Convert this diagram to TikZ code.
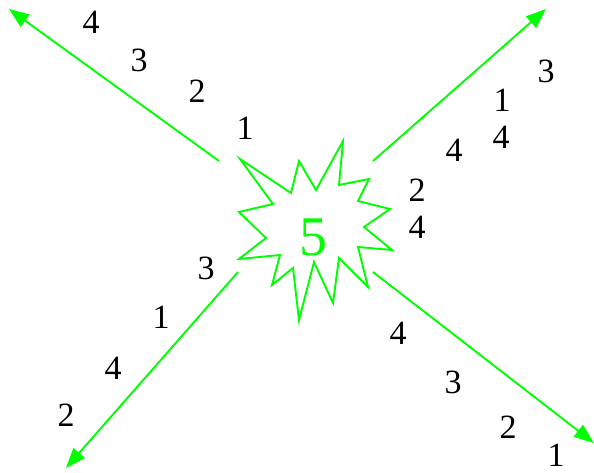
\documentclass[tikz,border=0pt]{standalone}
\usepackage{fontspec}
\setmainfont{Liberation Serif}
\newfontfamily\numfont{Liberation Serif}
\usepackage{tikz}
\usetikzlibrary{arrows.meta}
\definecolor{burstgreen}{RGB}{0, 255, 0}

\begin{document}
\begin{tikzpicture}[
    x=1pt, y=-1pt,
    ray/.style={draw=burstgreen, line width=1.9pt, -{Triangle[length=20pt, width=15pt]}},
    num/.style={font=\numfont\fontsize{34}{36}\selectfont, text=black, inner sep=0pt},
]
    \useasboundingbox (0,0) rectangle (594,473);

    % Star
    \draw[burstgreen, line width=1.9pt, line join=miter]
        (240,159) -- (291,193) -- (299,161) -- (316,190) -- (343,141) -- (339,185)
        -- (369,179) -- (358,201) -- (390,209) -- (364,227) -- (392,250) -- (358,247)
        -- (368,287) -- (339,258) -- (333,303) -- (314,262) -- (299,320) -- (293,268)
        -- (272,285) -- (280,255) -- (239,259) -- (266,238) -- (239,212) -- (273,204)
        -- cycle;
    \node[font=\numfont\fontsize{56}{58}\selectfont, text=burstgreen, inner sep=0pt] (five) at (313,237) {5};

    % Arrows
    \coordinate (nwstart) at (219,161);
    \coordinate (nwend) at (9,9);
    \coordinate (nestart) at (373,161);
    \coordinate (neend) at (546,9);
    \coordinate (swstart) at (238,272);
    \coordinate (swend) at (66,468);
    \coordinate (sestart) at (373,272);
    \coordinate (seend) at (594,443);
    \draw[ray] (nwstart) -- (nwend);
    \draw[ray] (nestart) -- (neend);
    \draw[ray] (swstart) -- (swend);
    \draw[ray] (sestart) -- (seend);

    % Labels, top left
    \node[num] (nwa) at (91,22) {4};
    \node[num] (nwb) at (139,60) {3};
    \node[num] (nwc) at (197,91) {2};
    \node[num] (nwd) at (245,128) {1};

    % Labels, top right
    \node[num] (nea) at (546,71) {3};
    \node[num] (neb) at (502,100) {1};
    \node[num] (nec) at (501,137) {4};
    \node[num] (ned) at (454,150) {4};
    \node[num] (nee) at (417,190) {2};
    \node[num] (nef) at (417,227) {4};

    % Labels, bottom left
    \node[num] (swa) at (206,268) {3};
    \node[num] (swb) at (161,317) {1};
    \node[num] (swc) at (113,368) {4};
    \node[num] (swd) at (66,415) {2};

    % Labels, bottom right
    \node[num] (sea) at (398,333) {4};
    \node[num] (seb) at (453,382) {3};
    \node[num] (sec) at (508,427) {2};
    \node[num] (sed) at (556,455) {1};
\end{tikzpicture}
\end{document}
